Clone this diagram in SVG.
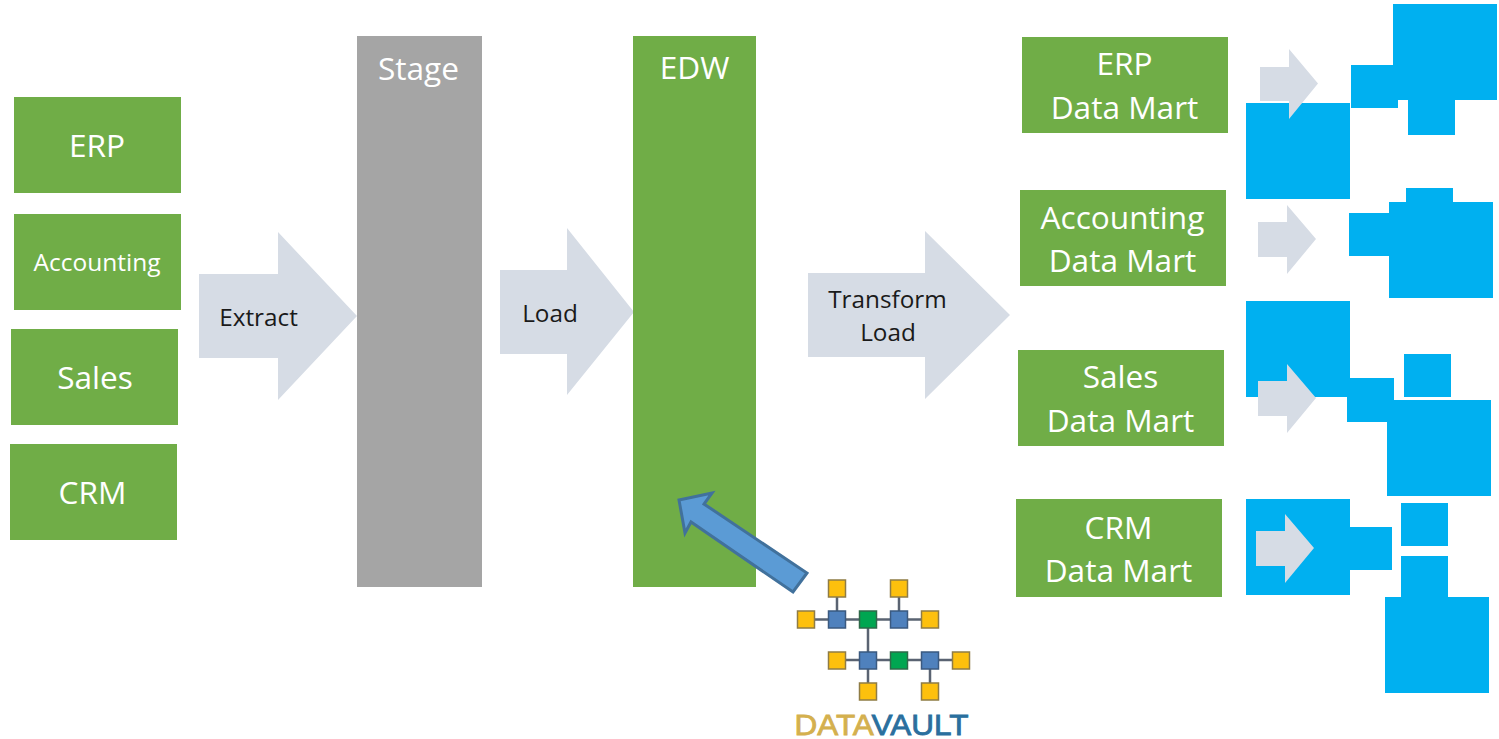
<svg xmlns="http://www.w3.org/2000/svg" width="1499" height="739" viewBox="0 0 1499 739">
<defs><filter id="soft" x="-5%" y="-5%" width="110%" height="110%"><feGaussianBlur stdDeviation="0.6"/></filter></defs>
<style>
.g{fill:#70ad47}.c{fill:#00b0f0}.a{fill:#d6dce5}
text{font-family:"Open Sans","Noto Sans","Liberation Sans",sans-serif;text-anchor:middle}
.w{fill:#fff;font-size:31.6px}.s{fill:#fff;font-size:24.500px}.k{fill:#1a1a1a;font-size:24.300px}
.y{fill:#fdc010;stroke:#8f7c45;stroke-width:1.500}.b{fill:#4f81bd;stroke:#3a5a80;stroke-width:1.500}.n{fill:#00a651;stroke:#2d6a4a;stroke-width:1.500}
.l{stroke:#5a6472;stroke-width:2.500;fill:none}
</style>
<rect width="1499" height="739" fill="#fff"/>
<g id="cyan-shapes">
<rect class="c" x="1393" y="4" width="104" height="96"/><rect class="c" x="1351" y="65" width="47" height="43"/><rect class="c" x="1408" y="92" width="47" height="43"/><rect class="c" x="1246" y="103" width="104" height="96"/>
<rect class="c" x="1406" y="188" width="47" height="43"/><rect class="c" x="1389" y="202" width="104" height="96"/><rect class="c" x="1349" y="213" width="47" height="43"/>
<rect class="c" x="1246" y="301" width="104" height="96"/><rect class="c" x="1347" y="378" width="47" height="44"/><rect class="c" x="1404" y="354" width="47" height="43"/><rect class="c" x="1387" y="400" width="104" height="96"/>
<rect class="c" x="1246" y="499" width="104" height="96"/><rect class="c" x="1345" y="527" width="47" height="43"/><rect class="c" x="1401" y="503" width="47" height="43"/><rect class="c" x="1401" y="556" width="47" height="43"/><rect class="c" x="1385" y="597" width="104" height="96"/>
</g>
<g id="connectors">
<polygon class="a" points="199,274 278,274 278,232 357,316 278,400 278,358 199,358"/>
<polygon class="a" points="500,270 567,270 567,228 634,312 567,395 567,354 500,354"/>
<polygon class="a" points="808,273 925,273 925,231 1010,315 925,399 925,357 808,357"/>
<polygon class="a" points="1260,67 1289,67 1289,49 1318,83.500 1289,119 1289,101 1260,101"/>
<polygon class="a" points="1258,222 1287,222 1287,205 1316,239 1287,274 1287,257 1258,257"/>
<polygon class="a" points="1258,381 1287,381 1287,364 1316,398 1287,433 1287,416 1258,416"/>
<polygon class="a" points="1256,531 1285,531 1285,514 1314,548 1285,583 1285,566 1256,566"/>
<text class="k" x="258.500" y="326">Extract</text>
<text class="k" x="550" y="322">Load</text>
<text class="k" x="887.500" y="308">Transform</text>
<text class="k" x="888" y="341">Load</text>
</g>
<g id="erp"><rect class="g" x="14" y="97" width="167" height="96"/><text class="w" x="97" y="157">ERP</text></g>
<g id="accounting"><rect class="g" x="14" y="214" width="167" height="96"/><text class="s" x="97" y="271">Accounting</text></g>
<g id="sales"><rect class="g" x="11" y="329" width="167" height="96"/><text class="w" x="95" y="389">Sales</text></g>
<g id="crm"><rect class="g" x="10" y="444" width="167" height="96"/><text class="w" x="92.500" y="504">CRM</text></g>
<g id="stage"><rect fill="#a5a5a5" x="357" y="36" width="125" height="551"/><text class="w" x="418.500" y="80">Stage</text></g>
<g id="edw"><rect class="g" x="633" y="36" width="123" height="551"/><text class="w" x="694.500" y="79">EDW</text></g>
<g id="erp-mart"><rect class="g" x="1022" y="37" width="206" height="96"/><text class="w" x="1124.500" y="75">ERP</text><text class="w" x="1124.500" y="119">Data Mart</text></g>
<g id="accounting-mart"><rect class="g" x="1020" y="190" width="206" height="96"/><text class="w" x="1122.500" y="229">Accounting</text><text class="w" x="1122.500" y="272">Data Mart</text></g>
<g id="sales-mart"><rect class="g" x="1018" y="350" width="206" height="96"/><text class="w" x="1120.500" y="388">Sales</text><text class="w" x="1120.500" y="432">Data Mart</text></g>
<g id="crm-mart"><rect class="g" x="1016" y="499" width="206" height="98"/><text class="w" x="1118.500" y="539">CRM</text><text class="w" x="1118.500" y="582">Data Mart</text></g>
<g id="data-vault">
<g filter="url(#soft)">
<path class="l" d="M806 619.500H929M837 588V619.500M899 588V619.500M868 619.500V660M837 660H961M868 660V691M930 660V691"/>
<rect class="y" x="828.500" y="580" width="17" height="17"/><rect class="y" x="890.500" y="580" width="17" height="17"/>
<rect class="y" x="797.500" y="611" width="17" height="17"/><rect class="b" x="828.500" y="611" width="17" height="17"/><rect class="n" x="859.500" y="611" width="17" height="17"/><rect class="b" x="890.500" y="611" width="17" height="17"/><rect class="y" x="921.500" y="611" width="17" height="17"/>
<rect class="y" x="828.500" y="652" width="17" height="17"/><rect class="b" x="859.500" y="652" width="17" height="17"/><rect class="n" x="890.500" y="652" width="17" height="17"/><rect class="b" x="921.500" y="652" width="17" height="17"/><rect class="y" x="952.500" y="652" width="17" height="17"/>
<rect class="y" x="859.500" y="683" width="17" height="17"/><rect class="y" x="921.500" y="683" width="17" height="17"/>
</g>
<text x="881.500" y="735" font-size="29" textLength="174" lengthAdjust="spacingAndGlyphs" stroke-width="0.8" style="font-family:'Liberation Sans',sans-serif"><tspan fill="#d4b04e" stroke="#d4b04e">DATA</tspan><tspan fill="#2a6f9e" stroke="#2a6f9e">VAULT</tspan></text>
</g>
<g id="vault-arrow"><polygon fill="#5b9bd5" stroke="#41719c" stroke-width="3" points="679,500 712,493 704,504 807,573 793,592 691,522 685,533"/></g>
</svg>
